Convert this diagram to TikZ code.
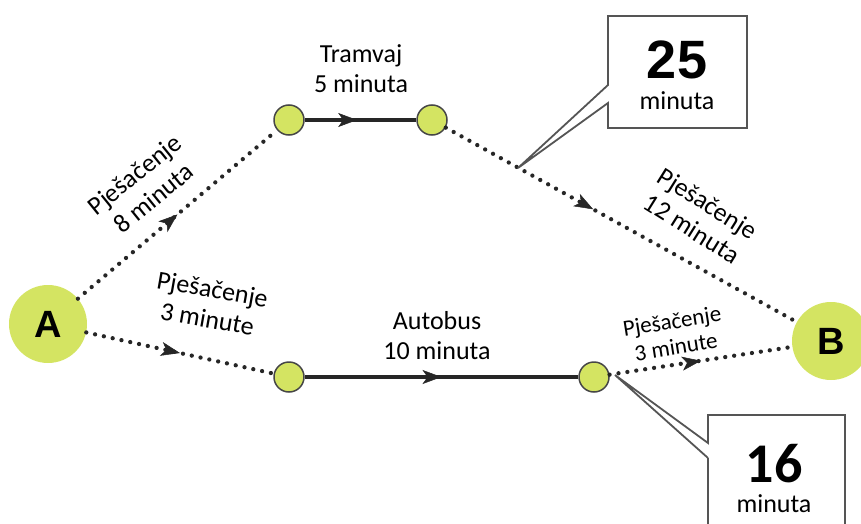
\documentclass[tikz,border=0pt]{standalone}
\usepackage{fontspec}
\setmainfont{Carlito}
\newfontfamily\arialf{Liberation Sans}
\usetikzlibrary{arrows.meta,decorations.markings}
\definecolor{lime}{RGB}{212,228,98}
\definecolor{edgegray}{RGB}{70,70,70}
\definecolor{boxgray}{RGB}{85,85,85}
\tikzset{
  x=1pt,y=-1pt,
  bignode/.style={circle,fill=lime,minimum size=78pt,inner sep=0pt,font=\arialf\bfseries\fontsize{38}{38}\selectfont},
  stop/.style={circle,fill=lime,draw=edgegray,line width=1.5pt,minimum size=30pt,inner sep=0pt},
  walk/.style={line width=4.3pt,line cap=round,dash pattern=on 0pt off 9pt,draw=black!85},
  ride/.style={line width=3.6pt,draw=black!85},
  midarrow/.style={postaction={decorate,decoration={markings,mark=at position #1 with {\arrow[solid,line width=0.5pt]{Stealth[length=19pt,width=14pt,inset=5pt]}}}}},
  lbl/.style={align=center,font=\fontsize{26}{30}\selectfont,inner sep=0pt},
  slbl/.style={align=center,font=\fontsize{23}{26}\selectfont,inner sep=0pt},
  callbox/.style={draw=boxgray,line width=1.8pt,fill=white},
}
\begin{document}
\begin{tikzpicture}
\useasboundingbox (0,0) rectangle (861,524);
% nodes
\node[bignode] (A) at (48,324) {A};
\node[bignode] (B) at (831,341) {B};
\node[stop] (t1) at (289,120) {};
\node[stop] (t2) at (432,120) {};
\node[stop] (b1) at (289,377) {};
\node[stop] (b2) at (594,377) {};
% connectors
\draw[walk,midarrow=0.5] (A) -- (t1);
\draw[ride,midarrow=0.47] (t1) -- (t2);
\draw[walk,midarrow=0.42] (t2) -- (B);
\draw[walk,midarrow=0.5] (A) -- (b1);
\draw[ride,midarrow=0.5] (b1) -- (b2);
\draw[walk,midarrow=0.5] (b2) -- (B);
% labels
\node[lbl,rotate=39] (l1) at (144,186) {Pješačenje\\8 minuta};
\node[lbl,rotate=-10] (l2) at (210,304) {Pješačenje\\3 minute};
\node[lbl] (l3) at (361,69) {Tramvaj\\5 minuta};
\node[lbl] (l4) at (437,336) {Autobus\\10 minuta};
\node[lbl,rotate=-32] (l5) at (700,216) {Pješačenje\\12 minuta};
\node[slbl,rotate=9] (l6) at (674,334) {Pješačenje\\3 minute};
% callout 25
\coordinate (p25) at (518,168);
\draw[callbox] (608,16) -- (747,16) -- (747,128) -- (608,128) -- (608,103) -- (p25) -- (608,85) -- cycle;
\node[font=\arialf\bfseries\fontsize{54}{54}\selectfont,inner sep=0pt] (n25) at (677,60) {25};
\node[font=\fontsize{26}{26}\selectfont,inner sep=0pt] (m25) at (677,101) {minuta};
% callout 16
\coordinate (p16) at (615,375);
\draw[callbox] (708,458) -- (708,530) (708,458) -- (p16) -- (708,443) -- (708,415) -- (845,415) -- (845,530);
\node[font=\bfseries\fontsize{56}{56}\selectfont,inner sep=0pt] (n16) at (774,464) {16};
\node[font=\fontsize{26}{26}\selectfont,inner sep=0pt] (m16) at (774,504) {minuta};
\end{tikzpicture}
\end{document}
